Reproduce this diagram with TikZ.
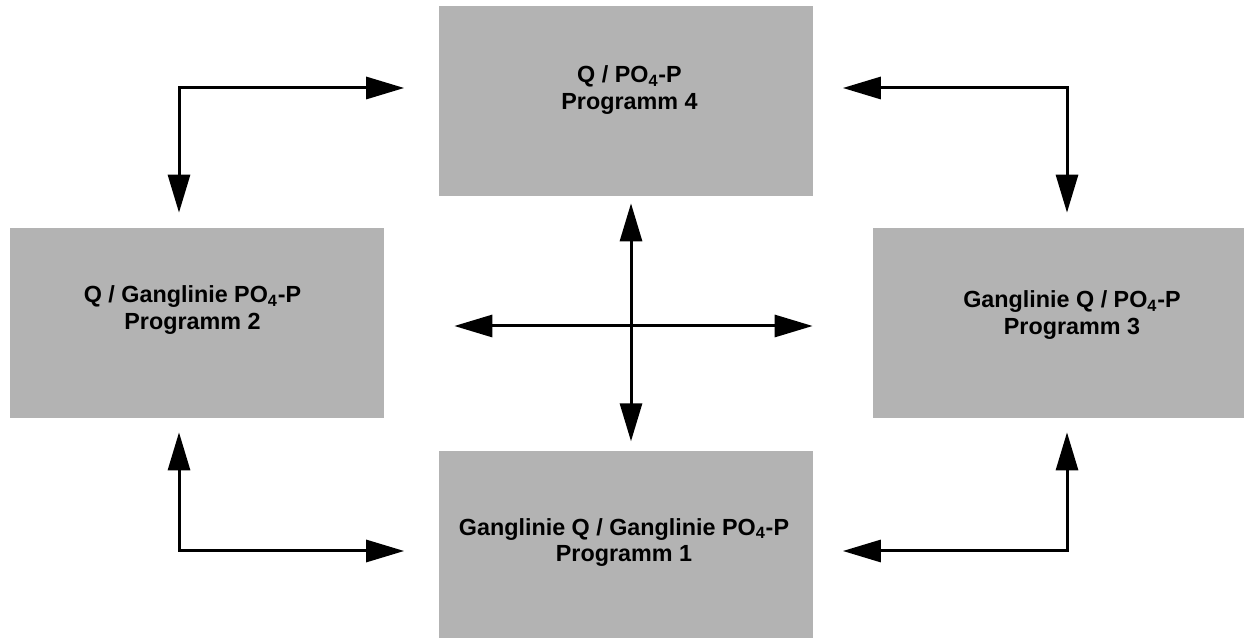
\documentclass[tikz,border=0pt]{standalone}
\usepackage{fontspec}
\setmainfont{Liberation Sans}
\usetikzlibrary{arrows.meta, positioning, calc}
\definecolor{boxgray}{RGB}{179,179,179}

\begin{document}
\begin{tikzpicture}[
		x=0.6pt, y=-0.6pt,
		>={Triangle[length=22.8pt, width=13.2pt]},
		box/.style = {rectangle, fill=boxgray, inner sep=0pt, minimum width=224.4pt, minimum height=114pt},
		lbl/.style = {anchor=base, align=center, inner sep=0pt, font=\fontsize{14pt}{16.2pt}\selectfont\bfseries},
		link/.style = {line width=1.8pt}
		]
		\useasboundingbox (0,0) rectangle (1244,638);

		% program boxes
		\node [box] (prog4) at (625.5,101) {};
		\node [box] (prog2) at (197,323) {};
		\node [box] (prog3) at (1060,323) {};
		\node [box] (prog1) at (625.5,546) {};

		\node [lbl] (txt4) at ($(prog4.center)+(4,9)$) {Q / PO\textsubscript{4}-P\\Programm 4};
		\node [lbl] (txt2) at ($(prog2.center)+(-4.5,7)$) {Q / Ganglinie PO\textsubscript{4}-P\\Programm 2};
		\node [lbl] (txt3) at ($(prog3.center)+(12,12)$) {Ganglinie Q / PO\textsubscript{4}-P\\Programm 3};
		\node [lbl] (txt1) at ($(prog1.center)+(-1.5,16)$) {Ganglinie Q / Ganglinie PO\textsubscript{4}-P\\Programm 1};

		% corners and hub
		\coordinate (c24) at (179,88);
		\coordinate (c34) at (1067,88);
		\coordinate (c12) at (179,551);
		\coordinate (c13) at (1067,551);
		\coordinate (hub) at (631,326);

		\draw [link, <->, shorten <=9pt, shorten >=20.4pt] (c24 |- prog2.north) -- (c24) -- (c24 -| prog4.west);
		\draw [link, <->, shorten <=9pt, shorten >=18pt] (c34 |- prog3.north) -- (c34) -- (c34 -| prog4.east);
		\draw [link, <->, shorten <=8.4pt, shorten >=20.4pt] (c12 |- prog2.south) -- (c12) -- (c12 -| prog1.west);
		\draw [link, <->, shorten <=8.4pt, shorten >=18pt] (c13 |- prog3.south) -- (c13) -- (c13 -| prog1.east);

		\draw [link, <->, shorten <=4.2pt, shorten >=5.6pt] (hub |- prog4.south) -- (hub |- prog1.north);
		\draw [link, <->, shorten <=42pt, shorten >=36pt] (hub -| prog2.east) -- (hub -| prog3.west);
	\end{tikzpicture}
\end{document}
